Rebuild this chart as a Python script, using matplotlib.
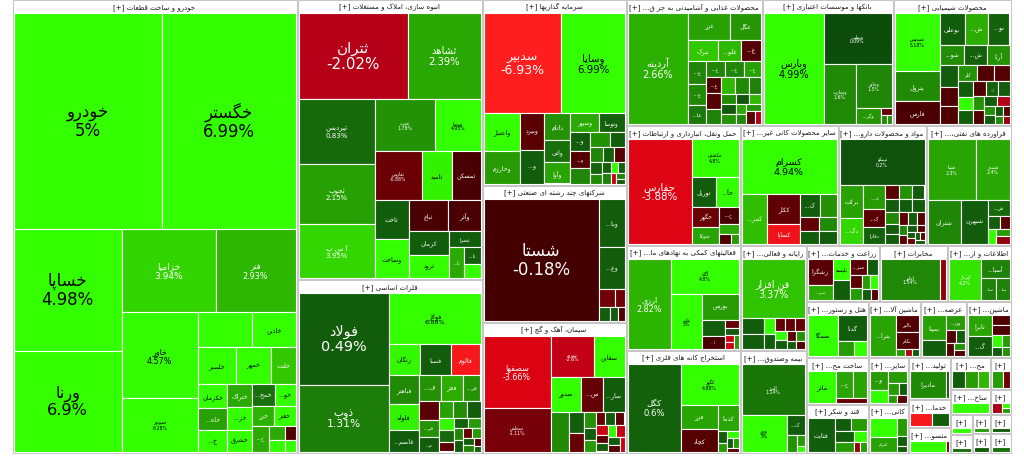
"""Tehran stock market treemap (sector -> symbol), recreated with matplotlib."""
import numpy as np
import matplotlib
matplotlib.use("Agg")
import matplotlib.pyplot as plt
from matplotlib.patches import Rectangle

plt.rcParams['font.family'] = ['DejaVu Sans']

# ---------------------------------------------------------------- data
# (symbol, size, change %) per sector; size = relative market value
khodro = [
    ("خودرو", 32400, 5.0), ("خگستر", 29160, 6.99), ("خساپا", 13300, 4.98),
    ("ورنا", 11000, 6.9), ("خزامیا", 7900, 3.94), ("فنر", 6720, 2.93),
    ("خاور", 6620, 4.57), ("خموتور", 4080, 6.28), ("", 1911, 5.0),
    ("خاذین", 1519, 5.0), ("خلصیر", 1421, 5.0), ("خمهر", 1320, 5.0),
    ("خلنت", 924, 3.5), ("خکرمان", 726, 5.0), ("خاه...", 644, 2.2),
    ("خ...", 640, 5.0), ("ختراک", 572, 2.5), ("خر...", 560, 5.0),
    ("خشرق", 546, 5.0), ("خمح...", 494, 1.0), ("خو...", 462, 5.0),
    ("خزر", 440, 2.8), ("خفنر", 440, 5.0), ("خ...", 432, 2.5),
    ("", 234, 2.5), ("", 187, 5.0), ("", 144, -0.4), ("", 119, 5.0),
]
anbooh = [
    ("ثتران", 9374, -2.02), ("ثشاهد", 6278, 2.39), ("ثپردیس", 4940, 0.83),
    ("ثجوب", 4560, 2.15), ("آ س پ", 4104, 3.95), ("ثغرب", 3120, 1.78),
    ("ثنوسا", 2392, 4.93), ("ثفارس", 2256, -0.88), ("ثامید", 1440, 4.4),
    ("ثمسکن", 1392, -0.3), ("ثاخت", 1320, 0.5), ("وساخت", 1280, 4.8),
    ("ثباغ", 1209, -0.3), ("وآذر", 990, -0.3), ("کرمان", 960, 0.5),
    ("ثرود", 920, 4.8), ("ثعمرا", 528, 0.5), ("ثا...", 460, 2.5),
    ("ثا...", 272, 0.6), ("", 224, 5.0),
]
felezat = [
    ("فولاد", 8096, 0.49), ("ذوب", 5896, 1.31), ("فولاژ", 4606, 6.88),
    ("زنگان", 957, 4.5), ("فصبا", 928, 0.5), ("فالوم", 900, -5.5),
    ("فباهنر", 850, 1.6), ("فلوله", 756, 4.4), ("قاسم...", 644, 0.5),
    ("ف...", 576, 1.8), ("فجر", 552, 2.6), ("فر...", 456, 1.8),
    ("", 380, -0.6), ("فر...", 342, 1.8), ("م...", 304, 0.5),
    ("", 240, 2.2), ("", 240, 1.7), ("", 225, 0.5), ("", 170, 4.5),
    ("", 170, 0.8), ("", 140, -0.6), ("", 130, 0.6), ("", 120, 2.0),
    ("", 110, 1.5), ("", 100, 0.5), ("", 90, -0.8), ("", 80, 2.0),
    ("", 70, 0.5), ("", 60, 1.5), ("", 50, -0.4), ("", 40, 0.6),
]
sarmaye = [
    ("سدبیر", 7900, -6.93), ("وساپا", 6400, 6.99), ("واعتبار", 1404, 5.0),
    ("وخارزم", 1188, 2.0), ("وبیرد", 912, -0.6), ("و...", 816, 0.5),
    ("داتام", 728, 1.8), ("واتی", 572, 1.0), ("وآوا", 572, 2.3),
    ("وسپهر", 540, 2.5), ("وتوصا", 486, 0.6), ("و...", 380, 0.5),
    ("و...", 342, -0.5), ("", 308, 1.5), ("", 300, 1.8), ("", 224, 0.5),
    ("", 196, 1.5), ("", 168, 0.6), ("", 168, -0.5), ("", 144, 0.7),
    ("", 120, 1.6), ("", 100, 0.6), ("", 90, 1.4), ("", 80, 5.0),
    ("", 70, 0.6), ("", 60, -3.0), ("", 50, 1.5), ("", 40, 0.5),
]
chand = [
    ("شستا", 14391, -0.18), ("ویا...", 1274, 0.5), ("وغ...", 1092, 0.5),
    ("", 286, -1.0), ("", 182, -1.0), ("", 156, 0.5), ("", 112, 0.5), ("", 96, -0.4),
]
siman = [
    ("سصفها", 4818, -3.66), ("سخاش", 2904, -1.11), ("سرود", 1800, -2.6),
    ("سقاین", 1240, 5.0), ("سدور", 1089, 5.0), ("س...", 770, -0.8),
    ("سار...", 755, 0.5), ("", 700, 1.6), ("", 308, 0.5), ("", 286, -0.8),
    ("", 182, 1.8), ("", 143, 0.5), ("", 130, 2.0), ("", 120, -0.8),
    ("", 120, 0.5), ("", 120, -0.6), ("", 117, -3.0), ("", 100, -0.6),
    ("", 100, 0.5), ("", 100, 5.0), ("", 100, -2.5), ("", 90, 0.5),
    ("", 80, -0.5), ("", 70, -3.0),
]
ghaza = [
    ("آردینه", 7006, 2.66), ("غزر", 1204, 2.2), ("غگل", 868, 1.9),
    ("تبرک", 660, 3.5), ("غلو...", 506, 3.0), ("غ...", 440, -0.5),
    ("غ...", 414, 1.5), ("غ...", 378, 1.6), ("عا...", 342, 1.2),
    ("غ...", 320, 1.5), ("غ...", 320, 1.5), ("غ...", 272, 2.2),
    ("غ...", 256, -0.4), ("", 256, -0.5), ("", 238, 1.4), ("", 238, 3.0),
    ("", 224, 1.6), ("", 204, 1.4), ("", 154, 1.6), ("", 143, 0.4),
    ("", 143, 1.8), ("", 130, 0.3), ("", 117, 3.0), ("", 112, 2.5),
    ("", 110, 1.6), ("", 110, 1.8), ("", 104, -0.6), ("", 77, -2.0),
]
bank = [
    ("وبارس", 6893, 4.99), ("وبملت", 3588, 0.09), ("وتجارت", 2013, 1.6),
    ("وخاور", 1620, 1.5), ("وگر...", 400, 1.9), ("", 77, -0.8),
    ("", 54, 1.6), ("", 45, 1.8),
]
shimi = [
    ("شپدیس", 2640, 5.18), ("پترول", 1320, 1.6), ("فارس", 1012, -0.3),
    ("بوعلی", 820, 0.5), ("ش...", 760, 2.6), ("نو...", 700, 0.6),
    ("شو...", 494, 1.7), ("ش...", 456, 0.6), ("آریا", 437, 1.8),
    ("", 391, 0.5), ("", 340, -0.4), ("", 306, -0.4), ("کلر", 306, 1.8),
    ("", 270, -0.4), ("", 255, -0.5), ("", 230, 0.5), ("", 210, 5.0),
    ("", 200, 0.5), ("", 190, -0.4), ("ز...", 180, 0.6), ("تا...", 170, 0.5),
    ("", 150, 1.8), ("", 140, -0.4), ("", 130, 0.5), ("", 120, -2.0),
    ("", 100, 1.8), ("", 90, 0.5), ("", 80, 0.5), ("", 70, -0.5),
    ("", 60, 1.6), ("", 50, -1.5),
]
haml = [
    ("حفارس", 6996, -3.88), ("حکشتی", 1872, 4.8), ("توریل", 750, 0.5),
    ("حآ...", 690, 5.0), ("حگهر", 560, -0.9), ("حتوکا", 476, 2.3),
    ("ح...", 340, -0.3), ("", 200, 2.5), ("", 120, -0.3), ("", 80, 2.0),
]
kani = [
    ("کسرام", 5432, 4.94), ("کمر...", 1300, 3.2), ("ککاز", 1000, -0.7),
    ("کساپا", 665, -5.0), ("ک...", 460, 0.5), ("", 391, 1.8),
    ("", 266, -0.7), ("", 247, 0.5), ("", 238, 1.6), ("", 221, 0.5),
]
daru = [
    ("تیپیکو", 4048, 0.2), ("برکت", 816, 2.2), ("دک...", 624, 4.0),
    ("د...", 550, 2.0), ("ک...", 396, -0.6), ("دفارا", 374, 0.6),
    ("", 210, -0.6), ("", 195, 1.8), ("", 182, 0.5), ("", 182, 0.5),
    ("", 169, 0.5), ("", 169, 0.5), ("", 150, 1.6), ("", 140, 0.5),
    ("", 130, 0.5), ("", 120, -0.6), ("", 110, 0.5), ("", 100, -0.5),
    ("", 90, 1.5), ("", 80, -0.6), ("", 70, 0.5), ("", 60, -0.5),
    ("", 50, 0.5), ("", 45, -0.8), ("", 40, 0.5), ("", 35, -0.6), ("", 30, 0.5),
]
naft = [
    ("شپنا", 3100, 2.3), ("شبندر", 2108, 2.4), ("شتران", 1540, 1.5),
    ("شبهرن", 1232, 0.5), ("ش...", 352, 0.8), ("", 156, 0.5),
    ("", 130, -0.6), ("", 120, 5.0), ("", 105, 2.0), ("", 105, -1.5),
]
komaki = [
    ("ارزی", 4300, 2.82), ("آگاه", 2600, 4.8), ("ثبات", 1872, 5.0),
    ("بورس", 1020, 2.0), ("", 400, 0.5), ("ا...", 308, -0.3),
    ("", 132, -0.8), ("", 108, 0.5), ("", 70, -3.0), ("", 70, -3.0), ("", 60, 2.0),
]
estekhraj = [
    ("کگل", 4752, 0.6), ("کگهر", 2460, 4.88), ("فزر", 925, 2.3),
    ("کچاد", 836, -0.5), ("کدما", 550, 2.3), ("", 110, 0.5),
    ("", 84, 2.0), ("", 84, 5.0), ("", 60, 0.5), ("", 50, 2.0), ("", 40, -0.5),
]
rayane = [
    ("فن افزار", 4030, 3.37), ("", 392, 0.5), ("", 364, 0.5), ("", 180, 4.8),
    ("", 168, 0.5), ("", 140, -0.8), ("", 130, -0.8), ("", 130, -0.8),
    ("", 120, 5.0), ("", 110, 0.5), ("", 100, -0.6), ("", 90, 1.8),
    ("", 80, 0.5), ("", 70, -0.5),
]
bime = [
    ("البرز", 3315, 1.14), ("ودی", 1702, 5.0), ("ک...", 360, 0.5),
    ("", 180, 1.8), ("", 84, 2.0), ("", 42, 5.0),
]
zeraat = [
    ("زشگزا", 702, -0.6), ("سز...", 396, 2.5), ("تلیسه", 390, 5.0),
    ("", 360, 0.5), ("سز...", 306, -0.6), ("", 187, 0.5), ("", 156, -0.6),
    ("", 144, 2.0), ("", 117, 2.0), ("", 104, 5.0), ("", 100, 0.5), ("", 80, -0.5),
]
mokhaberat = [("اخابر", 2520, 1.54), ("", 252, -1.5)]
etelaat = [("اپرداز", 1428, 4.2), ("آسیا...", 580, 1.4), ("سا...", 330, 1.4), ("سا...", 308, 1.4)]
hotel = [("سمگا", 1216, 5.0), ("گدنا", 725, 0.5), ("", 208, 2.0), ("", 169, 5.0)]
felezi = [("ماذر", 957, 4.8), ("ج...", 476, 2.3), ("", 392, 2.3), ("", 155, -0.8)]
ghand = [("قثابت", 972, 0.5), ("", 234, 0.5), ("", 216, 2.0), ("", 208, 0.5),
         ("", 192, 2.0), ("", 144, 5.0), ("", 64, -1.5), ("", 64, 2.0)]
mashin = [("بترا...", 1064, 2.3), ("بالبر", 391, -0.4), ("بکام", 368, -0.4),
          ("", 60, 2.0), ("", 50, -2.0), ("", 40, 0.5)]
barq = [("بمپنا", 650, 2.2), ("", 378, 0.5), ("ون...", 300, 2.0), ("", 130, -0.4),
        ("", 100, 0.5), ("", 100, -0.4), ("", 80, 1.8), ("", 60, -0.4)]
barghi = [("تابرا", 552, 2.3), ("گ...", 483, 0.5), ("", 180, -0.4), ("", 170, -0.4),
          ("", 120, 5.0), ("", 100, 2.0), ("", 80, 0.5), ("", 60, 1.8)]
sayer = [("و...", 400, 2.0), ("", 260, 5.0), ("", 260, 2.0), ("", 144, 2.0),
         ("", 96, 0.5), ("", 80, 2.0), ("", 80, -0.6)]
kani2 = [("", 612, 5.0), ("کترام", 437, 2.2), ("", 204, 2.0), ("", 121, 0.5), ("", 60, 0.5)]
tolid = [("مادیرا", 975, 1.6), ("", 60, 0.5)]
khadamat = [("", 286, -5.5), ("", 221, 0.5)]
mansu = [("", 432, 5.0), ("", 36, -1.0)]
mo = [("", 210, 0.5), ("", 195, 2.0), ("", 165, 3.0)]
etc1 = [("", 130, 2.0), ("", 70, -1.0)]
san = [("", 280, 5.0)]
ya = [("", 104, -1.8), ("", 40, 5.0), ("", 30, 2.0)]
tiny_a = [("", 90, 5.0)]
tiny_b = [("", 70, 1.0)]
tiny_c = [("", 70, 2.0)]
tiny_d = [("", 60, 0.5)]
tiny_e = [("", 60, 0.5)]
tiny_f = [("", 40, 1.0)]

# sector titles, total sizes and members
sector_titles = [
    "خودرو و ساخت قطعات [+]", "انبوه سازی، املاک و مستغلات [+]", "فلزات اساسی [+]",
    "سرمایه گذاریها [+]", "شرکتهای چند رشته ای صنعتی [+]", "سیمان، آهک و گچ [+]",
    "محصولات غذایی و آشامیدنی به جز قند و شکر [+]", "بانکها و موسسات اعتباری [+]",
    "محصولات شیمیایی [+]", "حمل ونقل، انبارداری و ارتباطات [+]",
    "سایر محصولات کانی غیرفلزی [+]", "مواد و محصولات دارویی [+]",
    "فراورده های نفتی، کک و سوخت هسته ای [+]", "فعالیتهای کمکی به نهادهای مالی واسط [+]",
    "استخراج کانه های فلزی [+]", "رایانه و فعالیتهای وابسته به آن [+]",
    "بیمه وصندوق بازنشستگی به جز تامین اجتماعی [+]",
    "زراعت و خدمات وابسته [+]", "مخابرات [+]", "اطلاعات و ارتباطات [+]",
    "هتل و رستوران [+]", "ساخت محصولات فلزی [+]", "قند و شکر [+]",
    "ماشین آلات و تجهیزات [+]", "عرضه برق، گاز، بخار و آب گرم [+]",
    "ماشین آلات و دستگاههای برقی [+]",
    "سایر واسطه گریهای مالی [+]", "کانی های غیرفلزی [+]", "تولید محصولات کامپیوتری [+]",
    "خدمات فنی و مهندسی [+]", "منسوجات [+]",
    "محصولات چوبی [+]", "لاستیک و پلاستیک [+]", "ساخت دستگاهها و وسایل ارتباطی [+]",
    "دباغی و پرداخت چرم [+]", "اوراق [+]", "فعالیتهای هنری [+]", "چاپ [+]",
    "حمل و نقل آبی [+]", "کاشی [+]", "[+]",
]
sector_sizes = [
    129390, 51800, 32190, 26784, 19728, 18864, 17136, 16506, 14868,
    13680, 11760, 10560, 10200, 11970, 11742, 6930, 6798, 4088, 3808, 3584,
    3472, 2914, 3038, 2912, 2576, 2520, 1880, 1960, 1764, 1176, 1092,
    1280, 672, 1000, 525, 440, 418, 351, 351, 410, 409,
]
sector_stocks = [
    khodro, anbooh, felezat, sarmaye, chand, siman, ghaza, bank, shimi,
    haml, kani, daru, naft, komaki, estekhraj, rayane, bime, zeraat, mokhaberat,
    etelaat, hotel, felezi, ghand, mashin, barq, barghi, sayer, kani2, tolid,
    khadamat, mansu, mo, etc1, san, ya, tiny_a, tiny_b, tiny_c, tiny_d, tiny_e, tiny_f,
]
# squarify rows of sectors: 'v' = column at left, 'h' = strip along top
sector_rows = [
    ('v', [0]), ('v', [1, 2]), ('v', [3, 4, 5]), ('h', [6, 7, 8]),
    ('h', [9, 10, 11, 12]), ('v', [13, 14]), ('v', [15, 16]), ('h', [17, 18, 19]),
    ('v', [20, 21, 22]), ('h', [23, 24, 25]), ('v', [26, 27]), ('v', [28, 29, 30]),
    ('h', [31, 32]), ('h', [33, 34]), ('v', [35, 36]), ('v', [37, 38]), ('v', [39, 40]),
]

# ---------------------------------------------------------------- style
TINY = {"خموتور", "ثغرب", "ثنوسا", "ثفارس", "وبملت", "وتجارت", "وخاور", "شپدیس",
        "تیپیکو", "شپنا", "شبندر", "حکشتی", "سخاش", "سرود", "آگاه", "ثبات",
        "اخابر", "اپرداز", "کگهر", "البرز", "ودی"}
FONT_PX = {"ثتران": 15, "خزامیا": 9, "فنر": 8, "خاور": 8, "ثپردیس": 7, "ثجوب": 7,
           "آ س پ": 7, "فولاژ": 6.5, "سصفها": 8, "ارزی": 8, "ثشاهد": 10, "کسرام": 9.5}
POS = [(0.0, (12, 74, 12)), (1.0, (24, 112, 10)), (2.0, (38, 155, 4)),
       (3.0, (46, 185, 0)), (4.0, (51, 215, 0)), (4.6, (51, 255, 0))]
NEG = [(0.0, (58, 0, 0)), (1.0, (112, 0, 6)), (2.0, (182, 0, 24)),
       (3.7, (220, 2, 18)), (6.0, (255, 30, 30))]
HEAD = 13
HEAD_PT = 5
MAP = (12, 0, 1011, 454)

# ---------------------------------------------------------------- arabic shaping
DUAL = {'ئ': 0xFE89, 'ب': 0xFE8F, 'ت': 0xFE95, 'ث': 0xFE99, 'ج': 0xFE9D,
        'ح': 0xFEA1, 'خ': 0xFEA5, 'س': 0xFEB1, 'ش': 0xFEB5, 'ص': 0xFEB9,
        'ض': 0xFEBD, 'ط': 0xFEC1, 'ظ': 0xFEC5, 'ع': 0xFEC9, 'غ': 0xFECD,
        'ف': 0xFED1, 'ق': 0xFED5, 'ك': 0xFED9, 'ل': 0xFEDD, 'م': 0xFEE1,
        'ن': 0xFEE5, 'ه': 0xFEE9, 'ي': 0xFEF1, 'پ': 0xFB56, 'چ': 0xFB7A,
        'ک': 0xFB8E, 'گ': 0xFB92, 'ی': 0xFBFC}
RIGHT = {'آ': 0xFE81, 'أ': 0xFE83, 'ؤ': 0xFE85, 'إ': 0xFE87, 'ا': 0xFE8D,
         'ة': 0xFE93, 'د': 0xFEA9, 'ذ': 0xFEAB, 'ر': 0xFEAD, 'ز': 0xFEAF,
         'و': 0xFEED, 'ى': 0xFEEF, 'ژ': 0xFB8A}
LAMALEF = {'آ': 0xFEF5, 'أ': 0xFEF7, 'إ': 0xFEF9, 'ا': 0xFEFB}
MIRROR = str.maketrans('[]()', '][)(')


def rtl(s):
    """Contextual forms + visual (reversed) order, since matplotlib has no bidi."""
    out, i, n = [], 0, len(s)
    while i < n:
        c = s[i]
        if c in DUAL or c in RIGHT:
            prev = i > 0 and s[i - 1] in DUAL
            if c == 'ل' and i + 1 < n and s[i + 1] in LAMALEF:
                out.append(chr(LAMALEF[s[i + 1]] + int(prev)))
                i += 2
                continue
            nxt = c in DUAL and i + 1 < n and (s[i + 1] in DUAL or s[i + 1] in RIGHT)
            base = DUAL.get(c) or RIGHT[c]
            out.append(chr(base + (3 if prev and nxt else 1 if prev else 2 if nxt else 0)))
        elif c != '\u200c':
            out.append(c)
        i += 1
    return ''.join(out)[::-1].translate(MIRROR)


def cell_color(p):
    table = POS if p >= 0 else NEG
    xs = [t[0] for t in table]
    return tuple(np.interp(abs(p), xs, [t[1][k] for t in table]) / 255 for k in range(3))


# ---------------------------------------------------------------- layout
def squarify(values, x0, y0, x1, y1):
    """d3.treemapSquarify (ratio 1); values sorted descending."""
    rects, n, i0, value = [None] * len(values), len(values), 0, float(sum(values))
    while i0 < n:
        dx, dy = x1 - x0, y1 - y0
        i1 = i0 + 1
        s = mn = mx = values[i0]
        alpha = max(dy / dx, dx / dy) / value
        beta = s * s * alpha
        best = max(mx / beta, beta / mn)
        while i1 < n:
            v = values[i1]
            s2, mn2, mx2 = s + v, min(mn, v), max(mx, v)
            beta = s2 * s2 * alpha
            r = max(mx2 / beta, beta / mn2)
            if r > best:
                break
            s, mn, mx, best = s2, mn2, mx2, r
            i1 += 1
        if dx < dy:
            h = dy * s / value
            x = x0
            for k in range(i0, i1):
                w = dx * values[k] / s
                rects[k] = (x, y0, x + w, y0 + h)
                x += w
            y0 += h
        else:
            w = dx * s / value
            y = y0
            for k in range(i0, i1):
                h = dy * values[k] / s
                rects[k] = (x0, y, x0 + w, y + h)
                y += h
            x0 += w
        value -= s
        i0 = i1
    return rects


def rows_layout(rows, sizes, x0, y0, x1, y1):
    rects = {}
    left = float(sum(sizes))
    for orient, members in rows:
        s = float(sum(sizes[i] for i in members))
        if orient == 'v':
            w = (x1 - x0) * s / left
            y = y0
            for i in members:
                h = (y1 - y0) * sizes[i] / s
                rects[i] = (x0, y, x0 + w, y + h)
                y += h
            x0 += w
        else:
            h = (y1 - y0) * s / left
            x = x0
            for i in members:
                w = (x1 - x0) * sizes[i] / s
                rects[i] = (x, y0, x + w, y0 + h)
                x += w
            y0 += h
        left -= s
    return rects


def draw_label(ax, r, name, p):
    if not name:
        return
    x0, y0, x1, y1 = r
    w, h = x1 - x0, y1 - y0
    m = min(w, h)
    col = 'black' if p >= 4.3 else 'white'
    txt, pct = rtl(name), f"{p:g}%"
    cx, cy = (x0 + x1) / 2, (y0 + y1) / 2
    kw = dict(ha='center', va='center', color=col, linespacing=1.1)
    if name in TINY:
        ax.text(cx, cy, txt + "\n" + pct, fontsize=3.3, **kw)
    elif m >= 40:
        px = FONT_PX.get(name, min(16.5, 0.16 * m))
        px = min(px, w / (0.62 * max(len(txt), len(pct))))
        ax.text(cx, cy, txt + "\n" + pct, fontsize=px * 0.72, **kw)
    elif m >= 12:
        px = min(6.3, 0.3 * m, w / (0.58 * len(txt)))
        if px >= 3.5:
            ax.text(cx, cy, txt, fontsize=px * 0.72, **kw)


def header_text(ax, renderer, title, x0, x1, y):
    """Centre the sector title, cutting it with '...' until it fits the header."""
    body = title.replace(" [+]", "").replace("[+]", "").strip()
    cands = [title] + [body[:k].rstrip() + "... [+]" for k in range(len(body) - 1, 0, -1)] + ["[+]"]
    t = ax.text((x0 + x1) / 2, y, "", fontsize=HEAD_PT, ha='center', va='center', color='#1a1a1a')
    avail = (x1 - x0 - 4) * fig.dpi / 100
    for c in cands:
        t.set_text(rtl(c))
        if t.get_window_extent(renderer).width <= avail:
            break
    return t


# ---------------------------------------------------------------- draw
fig = plt.figure(figsize=(10.24, 4.64), dpi=100)
ax = fig.add_axes([0, 0, 1, 1])
ax.set_xlim(0, 1024)
ax.set_ylim(464, 0)
ax.axis('off')
renderer = fig.canvas.get_renderer()

srects = rows_layout(sector_rows, sector_sizes, *MAP)
for idx, (x0, y0, x1, y1) in srects.items():
    ax.add_patch(Rectangle((x0 + 0.5, y0 + 0.5), x1 - x0 - 1, y1 - y0 - 1,
                           fc='white', ec='#c4c4c4', lw=0.7))
    hh = min(HEAD, y1 - y0 - 1)
    header_text(ax, renderer, sector_titles[idx], x0, x1, y0 + hh / 2 + 0.8)
    cx0, cy0, cx1, cy1 = x0 + 1.5, y0 + hh + 0.5, x1 - 1.5, y1 - 1.5
    if cy1 - cy0 < 2 or cx1 - cx0 < 2:
        continue
    stocks = sorted(sector_stocks[idx], key=lambda s: -s[1])
    cells = squarify([s[1] for s in stocks], cx0, cy0, cx1, cy1)
    for (name, _, p), r in zip(stocks, cells):
        ax.add_patch(Rectangle((r[0], r[1]), r[2] - r[0], r[3] - r[1],
                               fc=cell_color(p), ec='white', lw=0.8))
        draw_label(ax, r, name, p)

fig.savefig("out.png", dpi=100)
